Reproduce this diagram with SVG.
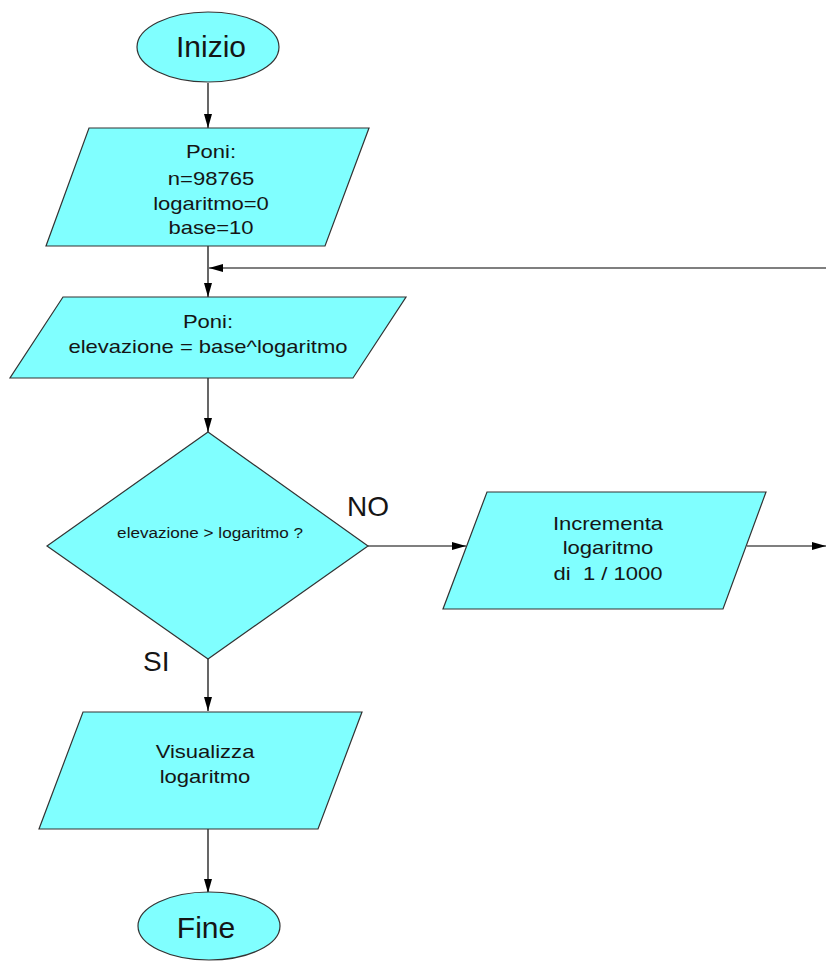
<svg xmlns="http://www.w3.org/2000/svg" width="826" height="961" viewBox="0 0 826 961">
<defs>
<marker id="ah" markerWidth="15" markerHeight="9" refX="14" refY="4.5" orient="auto" markerUnits="userSpaceOnUse">
<path d="M0,0.5 L14,4.5 L0,8.5 Z" fill="#000"/>
</marker>
<style>
.shape{fill:#80FFFF;stroke:#333;stroke-width:1.2}
.conn{stroke:#000;stroke-width:1.2;fill:none;marker-end:url(#ah)}
text{font-family:"Liberation Sans",Arial,sans-serif;fill:#151515;text-anchor:middle}
.big{font-size:30px}
.body{font-size:19px}
.small{font-size:15px}
.lbl{font-size:28px;text-anchor:start}
</style>
</defs>
<rect width="826" height="961" fill="#fff"/>
<g id="connectors">
<line class="conn" x1="208" y1="83" x2="208" y2="128"/>
<line class="conn" x1="208" y1="246" x2="208" y2="297"/>
<line class="conn" x1="826" y1="268" x2="209" y2="268"/>
<line class="conn" x1="208" y1="378" x2="208" y2="432"/>
<line class="conn" x1="368" y1="546" x2="466" y2="546"/>
<line class="conn" x1="747" y1="546" x2="826" y2="546"/>
<line class="conn" x1="208" y1="659" x2="208" y2="711"/>
<line class="conn" x1="208" y1="829" x2="208" y2="893"/>
</g>
<g id="inizio">
<ellipse class="shape" cx="208" cy="47" rx="71" ry="35"/>
<text class="big" x="211" y="57">Inizio</text>
</g>
<g id="init">
<polygon class="shape" points="89,128 369,128 325,246 46,246"/>
<g transform="translate(211,0) scale(1.16,1)">
<text class="body" x="0" y="158">Poni:</text>
<text class="body" x="0" y="185">n=98765</text>
<text class="body" x="0" y="210">logaritmo=0</text>
<text class="body" x="0" y="234">base=10</text>
</g>
</g>
<g id="calc">
<polygon class="shape" points="63,297 406,297 353,378 10,378"/>
<g transform="translate(208,0) scale(1.16,1)">
<text class="body" x="0" y="328">Poni:</text>
<text class="body" x="0" y="353">elevazione = base^logaritmo</text>
</g>
</g>
<g id="decision">
<polygon class="shape" points="208,432 368,546 208,659 47,546"/>
<g transform="translate(210,0) scale(1.14,1)">
<text class="small" x="0" y="538">elevazione &gt; logaritmo ?</text>
</g>
</g>
<g id="increment">
<polygon class="shape" points="487,492 766,492 723,609 443,609"/>
<g transform="translate(608,0) scale(1.16,1)">
<text class="body" x="0" y="530">Incrementa</text>
<text class="body" x="0" y="554">logaritmo</text>
<text class="body" x="0" y="580" xml:space="preserve">di  1 / 1000</text>
</g>
</g>
<g id="labels">
<text class="lbl" x="347" y="516">NO</text>
<text class="lbl" x="143" y="671">SI</text>
</g>
<g id="output">
<polygon class="shape" points="83,712 362,712 318,829 39,829"/>
<g transform="translate(205,0) scale(1.16,1)">
<text class="body" x="0" y="758">Visualizza</text>
<text class="body" x="0" y="783">logaritmo</text>
</g>
</g>
<g id="fine">
<ellipse class="shape" cx="209" cy="926" rx="71" ry="34"/>
<text class="big" x="206" y="938">Fine</text>
</g>
</svg>
